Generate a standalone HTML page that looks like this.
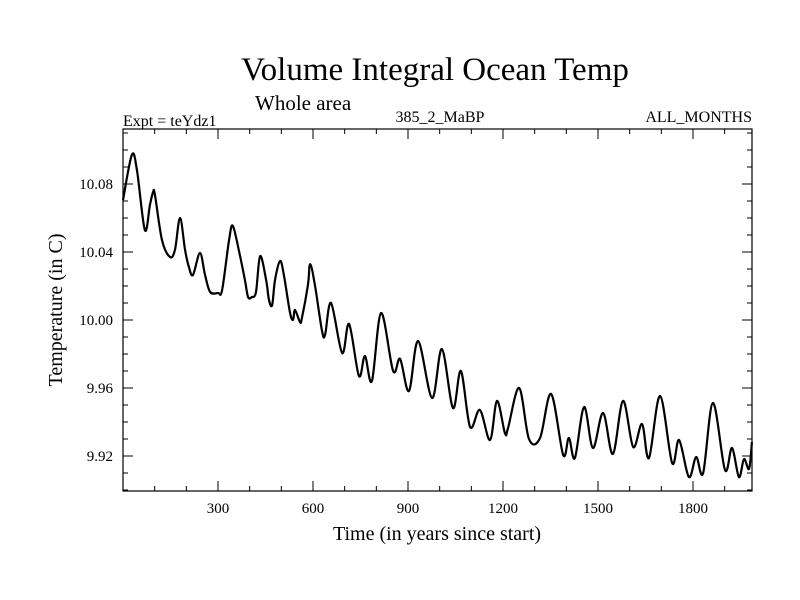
<!DOCTYPE html>
<html><head><meta charset="utf-8"><style>body{margin:0;background:#fff}svg{display:block}text{font-family:"Liberation Serif",serif;fill:#000}</style></head>
<body>
<svg id="chart" width="800" height="600" viewBox="0 0 800 600">
<text x="435" y="80" font-size="33" text-anchor="middle">Volume Integral Ocean Temp</text>
<text x="255" y="110" font-size="21">Whole area</text>
<text x="123" y="126" font-size="16">Expt = teYdz1</text>
<text x="440" y="122" font-size="16" text-anchor="middle">385_2_MaBP</text>
<text x="752" y="122" font-size="16" text-anchor="end">ALL_MONTHS</text>
<rect x="123" y="129" width="629" height="362" fill="none" stroke="#000" stroke-width="1.2"/>
<g id="ticks"></g>
<path id="line" fill="none" stroke="#000" stroke-width="2.2" stroke-linejoin="round"/>
<text x="437" y="540" font-size="20" text-anchor="middle">Time (in years since start)</text>
<text transform="translate(62,310) rotate(-90)" font-size="20" text-anchor="middle">Temperature (in C)</text>
</svg>
<script>
const years=[0,28,44,69,85,95,101,123,148,164,180,196,208,221,243,259,275,300,313,335,347,369,385,395,407,420,433,452,461,471,480,496,508,527,537,543,559,565,584,591,606,628,638,657,692,714,745,764,786,815,853,875,903,932,976,1007,1042,1067,1096,1127,1159,1181,1206,1216,1251,1282,1317,1352,1390,1408,1427,1456,1484,1516,1547,1579,1611,1639,1661,1696,1734,1756,1787,1810,1832,1863,1901,1923,1945,1961,1977,1986];
const temps=[10.0706,10.0971,10.0882,10.0529,10.0676,10.0753,10.0735,10.0471,10.0371,10.0412,10.0600,10.0412,10.0312,10.0265,10.0394,10.0265,10.0165,10.0159,10.0176,10.0471,10.0553,10.0382,10.0235,10.0135,10.0135,10.0165,10.0376,10.0235,10.0118,10.0088,10.0235,10.0347,10.0265,10.0047,10.0000,10.0059,9.9988,10.0012,10.0206,10.0329,10.0206,9.9941,9.9912,10.0100,9.9806,9.9976,9.9671,9.9788,9.9641,10.0041,9.9700,9.9771,9.9582,9.9876,9.9541,9.9829,9.9482,9.9700,9.9371,9.9471,9.9294,9.9524,9.9335,9.9365,9.9600,9.9300,9.9306,9.9565,9.9206,9.9306,9.9188,9.9488,9.9247,9.9453,9.9212,9.9524,9.9253,9.9388,9.9188,9.9553,9.9159,9.9294,9.9076,9.9194,9.9100,9.9512,9.9118,9.9247,9.9076,9.9182,9.9124,9.9282];
const xTickLabels=[300,600,900,1200,1500,1800];
const yTickLabels=[9.92,9.96,10.00,10.04,10.08];
const X0=123,X1=752,Y0=129,Y1=491;
function xs(v){return X0+v*0.31667;}
function ys(v){return 184+(10.08-v)*1700;}
const svg=document.getElementById('chart'),g=document.getElementById('ticks');
const NS='http://www.w3.org/2000/svg';
function ln(x1,y1,x2,y2){const l=document.createElementNS(NS,'line');l.setAttribute('x1',x1);l.setAttribute('y1',y1);l.setAttribute('x2',x2);l.setAttribute('y2',y2);l.setAttribute('stroke','#000');l.setAttribute('stroke-width','1');


g.appendChild(l);}
for(let yr=100;yr<=1900;yr+=100){const x=xs(yr);if(x>X1)break;const L=yr%300===0?10:5;ln(x,Y1,x,Y1-L);ln(x,Y0,x,Y0+L);}
for(let k=0;k<30;k++){const v=9.90+k*0.01;const y=ys(v);if(y<Y0||y>Y1)continue;const major=Math.abs(Math.round(v*100)%4)===0;const L=major?10:5;ln(X0,y,X0+L,y);ln(X1,y,X1-L,y);}
xTickLabels.forEach(v=>{const t=document.createElementNS(NS,'text');t.setAttribute('x',xs(v));t.setAttribute('y',513);t.setAttribute('font-size','15');t.setAttribute('text-anchor','middle');t.textContent=v;


svg.appendChild(t);});
yTickLabels.forEach(v=>{const t=document.createElementNS(NS,'text');t.setAttribute('x',113);t.setAttribute('y',ys(v)+5);t.setAttribute('font-size','15');t.setAttribute('text-anchor','end');t.textContent=v.toFixed(2);


svg.appendChild(t);});
const P=years.map((y,i)=>[xs(y),ys(temps[i])]);
let d='M'+P[0][0]+','+P[0][1];
for(let i=0;i<P.length-1;i++){const p0=P[Math.max(0,i-1)],p1=P[i],p2=P[i+1],p3=P[Math.min(P.length-1,i+2)];
const c1=[p1[0]+(p2[0]-p0[0])/6,p1[1]+(p2[1]-p0[1])/6],c2=[p2[0]-(p3[0]-p1[0])/6,p2[1]-(p3[1]-p1[1])/6];
d+=' C'+c1.join(',')+' '+c2.join(',')+' '+p2.join(',');}
document.getElementById('line').setAttribute('d',d);
</script>
</body></html>
